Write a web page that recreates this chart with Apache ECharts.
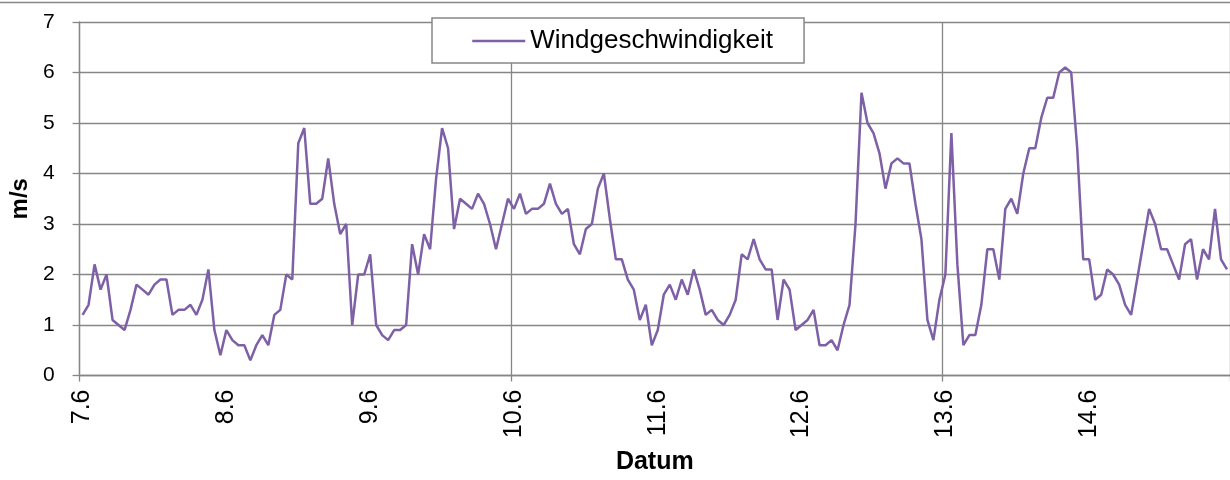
<!DOCTYPE html>
<html>
<head>
    <meta charset="UTF-8">
    <script type="text/javascript" src="https://cdn.jsdelivr.net/npm/echarts@6/dist/echarts.min.js"></script>
    <style>
        body { margin: 0; background: #fff; }
    </style>
</head>
<body>
    <div style="height: 480px;width: 1230px" id="myDiv"></div>
    <script type="text/javascript">
        // tage (labels on the x axis), 24 hourly values each
        var days = ['7.6', '8.6', '9.6', '10.6', '11.6', '12.6', '13.6', '14.6'];
        var yTicks = [0, 1, 2, 3, 4, 5, 6, 7];

        // windgeschwindigkeit in m/s, stündlich
        var day1 = [1.2,1.4,2.2,1.7,2.0,1.1,1.0,0.9,1.3,1.8,1.7,1.6,1.8,1.9,1.9,1.2,1.3,1.3,1.4,1.2,1.5,2.1,0.9,0.4];
        var day2 = [0.9,0.7,0.6,0.6,0.3,0.6,0.8,0.6,1.2,1.3,2.0,1.9,4.6,4.9,3.4,3.4,3.5,4.3,3.4,2.8,3.0,1.0,2.0,2.0];
        var day3 = [2.4,1.0,0.8,0.7,0.9,0.9,1.0,2.6,2.0,2.8,2.5,3.9,4.9,4.5,2.9,3.5,3.4,3.3,3.6,3.4,3.0,2.5,3.0,3.5];
        var day4 = [3.3,3.6,3.2,3.3,3.3,3.4,3.8,3.4,3.2,3.3,2.6,2.4,2.9,3.0,3.7,4.0,3.1,2.3,2.3,1.9,1.7,1.1,1.4,0.6];
        var day5 = [0.9,1.6,1.8,1.5,1.9,1.6,2.1,1.7,1.2,1.3,1.1,1.0,1.2,1.5,2.4,2.3,2.7,2.3,2.1,2.1,1.1,1.9,1.7,0.9];
        var day6 = [1.0,1.1,1.3,0.6,0.6,0.7,0.5,1.0,1.4,3.0,5.6,5.0,4.8,4.4,3.7,4.2,4.3,4.2,4.2,3.4,2.7,1.1,0.7,1.5];
        var day7 = [2.0,4.8,2.2,0.6,0.8,0.8,1.4,2.5,2.5,1.9,3.3,3.5,3.2,4.0,4.5,4.5,5.1,5.5,5.5,6.0,6.1,6.0,4.5,2.3];
        var day8 = [2.3,1.5,1.6,2.1,2.0,1.8,1.4,1.2,1.9,2.6,3.3,3.0,2.5,2.5,2.2,1.9,2.6,2.7,1.9,2.5,2.3,3.3,2.3,2.1];

        var dayValues = [day1, day2, day3, day4, day5, day6, day7, day8];

        var categories = [];
        var speed = [];
        for (var d = 0; d < days.length; d++) {
            for (var h = 0; h < 24; h++) {
                categories.push(days[d] + ' ' + h + ':00');
                speed.push(dayValues[d][h]);
            }
        }

        var fontName = 'Liberation Sans, Arial, sans-serif';
        var gridColor = '#868686';
        var lineColor = '#7d60a6';

        var chart = echarts.init(document.getElementById('myDiv'));
        var option = {
            animation: false,
            textStyle: { fontFamily: fontName },
            grid: {
                left: 78,
                top: 22,
                right: -1,
                bottom: 104.5
            },
            legend: {
                data: ['Windgeschwindigkeit'],
                left: 432,
                top: 18,
                padding: [10, 31, 9, 39],
                itemWidth: 53,
                itemHeight: 3,
                itemStyle: { opacity: 0 },
                lineStyle: { width: 2.5 },
                backgroundColor: '#fff',
                borderColor: gridColor,
                borderWidth: 1.5,
                borderRadius: 0,
                textStyle: { fontSize: 26, color: '#000', fontFamily: fontName }
            },
            xAxis: {
                type: 'category',
                data: categories,
                boundaryGap: true,
                name: 'Datum',
                nameLocation: 'middle',
                nameGap: 74,
                nameTextStyle: { fontSize: 25, fontWeight: 'bold', color: '#000', fontFamily: fontName },
                axisLine: { lineStyle: { color: gridColor, width: 1.3 } },
                axisTick: {
                    show: true,
                    length: 6,
                    interval: function (index) { return index % 72 === 0; },
                    lineStyle: { color: gridColor, width: 1.3 }
                },
                splitLine: {
                    show: true,
                    interval: function (index) { return index % 72 === 0; },
                    lineStyle: { color: gridColor, width: 1.3 }
                },
                axisLabel: {
                    interval: function (index) { return index % 24 === 0; },
                    rotate: 90,
                    margin: 14,
                    fontSize: 25,
                    color: '#000',
                    fontFamily: fontName,
                    formatter: function (v) { return v.split(' ')[0]; }
                }
            },
            yAxis: {
                type: 'value',
                min: yTicks[0],
                max: yTicks[yTicks.length - 1],
                interval: 1,
                name: 'm/s',
                nameLocation: 'middle',
                nameGap: 47,
                nameTextStyle: { fontSize: 24, fontWeight: 'bold', color: '#000', fontFamily: fontName },
                axisLine: { show: true, lineStyle: { color: gridColor, width: 1.3 } },
                axisTick: { show: true, length: 7, lineStyle: { color: gridColor, width: 1.3 } },
                splitLine: { show: true, lineStyle: { color: gridColor, width: 1.3 } },
                axisLabel: { fontSize: 21, color: '#000', margin: 25, fontFamily: fontName }
            },
            graphic: [{
                type: 'line',
                shape: { x1: 0, y1: 2.5, x2: 1230, y2: 2.5 },
                style: { stroke: gridColor, lineWidth: 1.3 }
            }],
            series: [{
                name: 'Windgeschwindigkeit',
                type: 'line',
                data: speed,
                symbol: 'none',
                showSymbol: false,
                lineStyle: { color: lineColor, width: 2.5 },
                itemStyle: { color: lineColor }
            }]
        };
        chart.setOption(option);
    </script>
</body>
</html>
